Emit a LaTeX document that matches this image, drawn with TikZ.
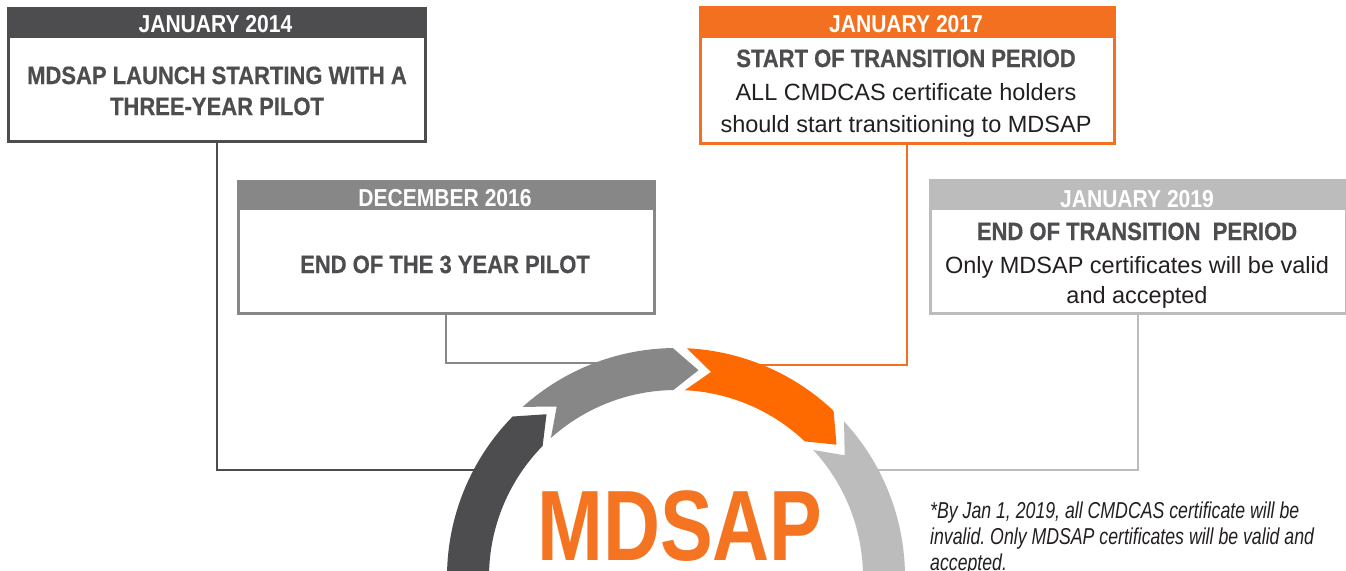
\documentclass[tikz,border=0pt]{standalone}
\usepackage{fontspec}
\setmainfont{Liberation Sans}
\newfontfamily\condf[FakeStretch=0.86]{Liberation Sans}
\newfontfamily\titlef[FakeStretch=0.88,FakeBold=0.6]{Liberation Sans}
\newfontfamily\bigf[FakeStretch=0.79]{Liberation Sans}
\newfontfamily\notef[FakeStretch=0.77]{Liberation Sans}
\frenchspacing
\definecolor{cdark}{HTML}{4D4D4F}
\definecolor{cgray}{HTML}{868786}
\definecolor{corange}{HTML}{F37021}
\definecolor{carrow}{HTML}{FF6A00}
\definecolor{clight}{HTML}{BCBCBC}
\definecolor{ctitle}{HTML}{4D4D4F}
\definecolor{cbody}{HTML}{231F20}
\definecolor{cbig}{HTML}{F47421}
\newcommand\ringseg[3]{%
  \fill[#3] (#1:229pt) arc[start angle=#1, end angle=#2, radius=229pt]
    -- ({#2-7}:208pt) -- (#2:187pt)
    arc[start angle=#2, end angle=#1, radius=187pt]
    -- ({#1-7}:208pt) -- cycle;}
\begin{document}
\begin{tikzpicture}[x=1pt,y=1pt,
  boxframe/.style={draw=#1, line width=2.5pt, anchor=north west, inner sep=0pt, fill=white},
  headtxt/.style={text=white, font=\condf\bfseries\fontsize{24.5}{30}\selectfont, anchor=base, inner sep=0pt},
  titletxt/.style={text=ctitle, font=\titlef\bfseries\fontsize{25}{30}\selectfont, anchor=base, inner sep=0pt},
  bodytxt/.style={text=cbody, font=\fontsize{23.5}{30}\selectfont, anchor=base, inner sep=0pt},
  notetxt/.style={text=cbody, font=\notef\itshape\fontsize{23}{26}\selectfont, anchor=base west, inner sep=0pt},
  conn/.style={line width=2.2pt},
]
\clip (0,0) rectangle (1346,-570);
\fill[white] (0,0) rectangle (1346,-570);

% boxes
\node[boxframe=cdark, minimum width=417pt, minimum height=133pt] (b1) at (7,-7) {};
\node[boxframe=cgray, minimum width=416pt, minimum height=132pt] (b2) at (237,-180) {};
\node[boxframe=corange, minimum width=414pt, minimum height=136pt] (b3) at (699,-6) {};
\node[boxframe=clight, minimum width=416pt, minimum height=133pt] (b4) at (929,-179) {};

% connector end points on the ring
\coordinate (e1) at (477,-470);
\coordinate (e2) at (598,-363);
\coordinate (e3) at (759,-365);
\coordinate (e4) at (876,-470);

\draw[conn, cdark] (b1.south) |- (e1);
\draw[conn, cgray] (b2.south) |- (e2);
\draw[conn, corange] (b3.south) |- (e3);
\draw[conn, clight] (b4.south) |- (e4);

% headers
\fill[cdark] (b1.north west) rectangle ([yshift=-31pt]b1.north east);
\fill[cgray] (b2.north west) rectangle ([yshift=-30pt]b2.north east);
\fill[corange] (b3.north west) rectangle ([yshift=-32pt]b3.north east);
\fill[clight] (b4.north west) rectangle ([yshift=-31pt]b4.north east);

% ring
\begin{scope}[shift={(676,-577)}]
  \ringseg{200}{135.5}{cdark}
  \ringseg{132}{90.8}{cgray}
  \ringseg{87.3}{46.5}{carrow}
  \ringseg{42.8}{-20}{clight}
\end{scope}

% texts
\node[headtxt] (h1) at (215.5,-32) {JANUARY 2014};
\node[titletxt] (t1a) at (217,-84) {MDSAP LAUNCH STARTING WITH A};
\node[titletxt] (t1b) at (217,-115) {THREE-YEAR PILOT};

\node[headtxt] (h2) at (445,-206) {DECEMBER 2016};
\node[titletxt] (t2) at (445,-273) {END OF THE 3 YEAR PILOT};

\node[headtxt] (h3) at (906,-32) {JANUARY 2017};
\node[titletxt] (t3) at (906,-67) {START OF TRANSITION PERIOD};
\node[bodytxt] (r3a) at (906,-100) {ALL CMDCAS certificate holders};
\node[bodytxt] (r3b) at (906,-132) {should start transitioning to MDSAP};

\node[headtxt] (h4) at (1137,-207) {JANUARY 2019};
\node[titletxt] (t4) at (1137,-240) {END OF TRANSITION\ \ PERIOD};
\node[bodytxt] (r4a) at (1137,-273) {Only MDSAP certificates will be valid};
\node[bodytxt] (r4b) at (1137,-303) {and accepted};

\node[text=cbig, font=\bigf\bfseries\fontsize{100}{110}\selectfont, anchor=base, inner sep=0pt] (big) at (680,-560) {MDSAP};

\node[notetxt] (n1) at (930,-518) {*By Jan 1, 2019, all CMDCAS certificate will be};
\node[notetxt] (n2) at (930,-544) {invalid. Only MDSAP certificates will be valid and};
\node[notetxt] (n3) at (930,-570) {accepted.};
\end{tikzpicture}
\end{document}
